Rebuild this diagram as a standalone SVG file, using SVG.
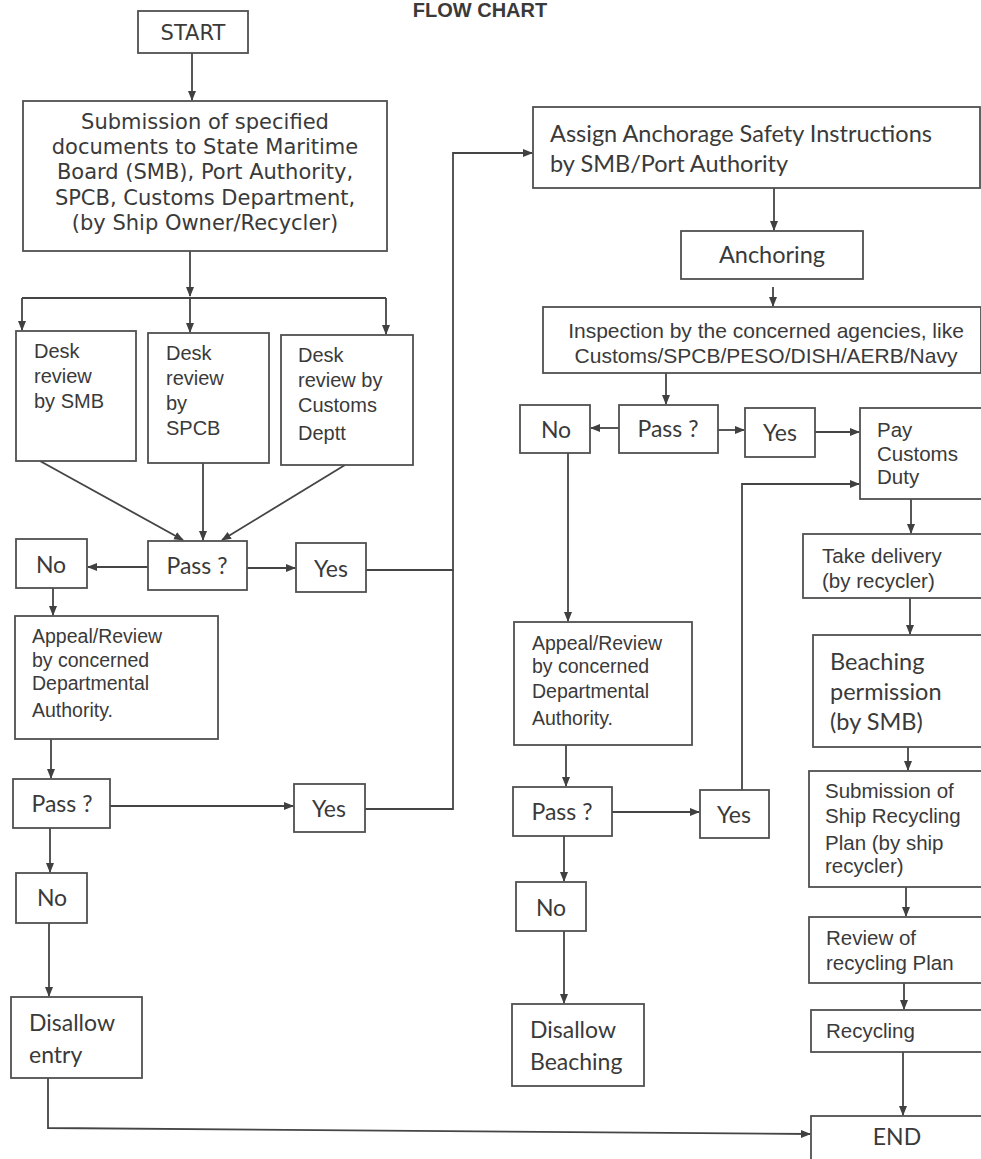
<svg xmlns="http://www.w3.org/2000/svg" width="981" height="1159" viewBox="0 0 981 1159">
<style>
.box{fill:#fff;stroke:#505050;stroke-width:1.8}
.c{fill:none;stroke:#454545;stroke-width:1.8}
.v{font-family:"DejaVu Sans",Verdana,sans-serif;fill:#3a3a3a}
.a{font-family:"Liberation Sans",Arial,sans-serif;fill:#3a3a3a}
.k{font-family:Lato,"Liberation Sans",sans-serif;fill:#3a3a3a}
.m{text-anchor:middle}
</style>
<defs>
<marker id="ah" markerWidth="10" markerHeight="10" refX="9" refY="5" orient="auto" markerUnits="userSpaceOnUse">
<path d="M0,1 L10,5 L0,9 Z" fill="#404040"/>
</marker>
</defs>
<rect width="981" height="1159" fill="#fff"/>
<text x="480" y="17" class="a m" font-size="20" font-weight="bold" fill="#222">FLOW CHART</text>

<g id="connectors" class="c" marker-end="url(#ah)">
<path d="M192,53 V100"/>
<path d="M190,251 V296"/>
<path d="M22,298 H386" marker-end="none"/>
<path d="M22,298 V330"/>
<path d="M190,298 V332"/>
<path d="M386,298 V334"/>
<path d="M40,461 L183,540"/>
<path d="M203,463 V540"/>
<path d="M345,465 L222,540"/>
<path d="M148,567 H88"/>
<path d="M247,568 H295"/>
<path d="M366,570 H453 V153 H532"/>
<path d="M53,588 V615"/>
<path d="M51,739 V778"/>
<path d="M110,806 H293"/>
<path d="M365,809 H453 V570" marker-end="none"/>
<path d="M50,828 V872"/>
<path d="M49,923 V996"/>
<path d="M48,1078 V1128 L810,1134"/>
<path d="M774,188 V230"/>
<path d="M773,287 V306"/>
<path d="M666,373 V404"/>
<path d="M619,428 H591"/>
<path d="M718,430 H744"/>
<path d="M815,432 H859"/>
<path d="M568,453 V621"/>
<path d="M566,745 V786"/>
<path d="M612,812 H699"/>
<path d="M742,790 V484 H859"/>
<path d="M564,836 V881"/>
<path d="M564,931 V1003"/>
<path d="M911,499 V533"/>
<path d="M910,598 V634"/>
<path d="M908,747 V770"/>
<path d="M906,887 V916"/>
<path d="M904,983 V1009"/>
<path d="M903,1052 V1115"/>
</g>

<g id="start"><rect class="box" x="138" y="11" width="110" height="42"/><text x="193" y="40" class="v m" font-size="21">START</text></g>

<g id="submission"><rect class="box" x="23" y="101" width="364" height="150"/>
<text class="v m" font-size="21"><tspan x="205" y="129">Submission of specified</tspan><tspan x="205" y="154">documents to State Maritime</tspan><tspan x="205" y="179">Board (SMB), Port Authority,</tspan><tspan x="205" y="205">SPCB, Customs Department,</tspan><tspan x="205" y="230">(by Ship Owner/Recycler)</tspan></text></g>

<g id="desk_smb"><rect class="box" x="16" y="331" width="120" height="130"/>
<text class="a" font-size="20"><tspan x="34" y="358">Desk</tspan><tspan x="34" y="383">review</tspan><tspan x="34" y="408">by SMB</tspan></text></g>
<g id="desk_spcb"><rect class="box" x="148" y="333" width="121" height="130"/>
<text class="a" font-size="20"><tspan x="166" y="360">Desk</tspan><tspan x="166" y="385">review</tspan><tspan x="166" y="410">by</tspan><tspan x="166" y="435">SPCB</tspan></text></g>
<g id="desk_customs"><rect class="box" x="281" y="335" width="132" height="130"/>
<text class="a" font-size="20"><tspan x="298" y="362">Desk</tspan><tspan x="298" y="387">review by</tspan><tspan x="298" y="412">Customs</tspan><tspan x="298" y="440">Deptt</tspan></text></g>

<g id="pass1"><rect class="box" x="148" y="541" width="99" height="49"/><text x="197" y="574" class="k m" font-size="23">Pass ?</text></g>
<g id="no1"><rect class="box" x="16" y="539" width="71" height="49"/><text x="51" y="573" class="k m" font-size="23">No</text></g>
<g id="yes1"><rect class="box" x="296" y="543" width="70" height="49"/><text x="331" y="577" class="k m" font-size="23">Yes</text></g>

<g id="appeal1"><rect class="box" x="15" y="616" width="203" height="123"/>
<text class="a" font-size="19.5"><tspan x="32" y="643">Appeal/Review</tspan><tspan x="32" y="667">by concerned</tspan><tspan x="32" y="690">Departmental</tspan><tspan x="32" y="717">Authority.</tspan></text></g>

<g id="pass2"><rect class="box" x="13" y="779" width="97" height="49"/><text x="62" y="812" class="k m" font-size="23">Pass ?</text></g>
<g id="yes2"><rect class="box" x="294" y="784" width="71" height="48"/><text x="329" y="817" class="k m" font-size="23">Yes</text></g>
<g id="no2"><rect class="box" x="16" y="873" width="71" height="50"/><text x="52" y="906" class="k m" font-size="23">No</text></g>
<g id="disallow_entry"><rect class="box" x="11" y="997" width="131" height="81"/>
<text class="k" font-size="23"><tspan x="29" y="1031">Disallow</tspan><tspan x="29" y="1063">entry</tspan></text></g>

<g id="assign"><rect class="box" x="533" y="107" width="447" height="81"/>
<text class="k" font-size="23.5"><tspan x="550" y="142">Assign Anchorage Safety Instructions</tspan><tspan x="550" y="172">by SMB/Port Authority</tspan></text></g>
<g id="anchoring"><rect class="box" x="681" y="231" width="182" height="48"/><text x="772" y="263" class="k m" font-size="23.5">Anchoring</text></g>
<g id="inspection"><rect class="box" x="543" y="307" width="438" height="66"/>
<text class="a m" font-size="21"><tspan x="766" y="338">Inspection by the concerned agencies,  like</tspan><tspan x="766" y="363">Customs/SPCB/PESO/DISH/AERB/Navy</tspan></text></g>

<g id="pass3"><rect class="box" x="619" y="405" width="99" height="48"/><text x="668" y="437" class="k m" font-size="23">Pass ?</text></g>
<g id="no3"><rect class="box" x="520" y="405" width="70" height="48"/><text x="556" y="438" class="k m" font-size="23">No</text></g>
<g id="yes3"><rect class="box" x="745" y="408" width="70" height="49"/><text x="780" y="441" class="k m" font-size="23">Yes</text></g>
<g id="pay"><rect class="box" x="860" y="408" width="125" height="91"/>
<text class="a" font-size="20.5"><tspan x="877" y="437">Pay</tspan><tspan x="877" y="461">Customs</tspan><tspan x="877" y="484">Duty</tspan></text></g>

<g id="appeal2"><rect class="box" x="514" y="622" width="178" height="123"/>
<text class="a" font-size="19.5"><tspan x="532" y="650">Appeal/Review</tspan><tspan x="532" y="673">by concerned</tspan><tspan x="532" y="698">Departmental</tspan><tspan x="532" y="725">Authority.</tspan></text></g>
<g id="pass4"><rect class="box" x="513" y="787" width="99" height="49"/><text x="562" y="820" class="k m" font-size="23">Pass ?</text></g>
<g id="yes4"><rect class="box" x="700" y="790" width="69" height="48"/><text x="734" y="823" class="k m" font-size="23">Yes</text></g>
<g id="no4"><rect class="box" x="516" y="882" width="70" height="49"/><text x="551" y="916" class="k m" font-size="23">No</text></g>
<g id="disallow_beaching"><rect class="box" x="512" y="1004" width="132" height="82"/>
<text class="k" font-size="23"><tspan x="530" y="1038">Disallow</tspan><tspan x="530" y="1070">Beaching</tspan></text></g>

<g id="take_delivery"><rect class="box" x="803" y="534" width="182" height="64"/>
<text class="a" font-size="20.5"><tspan x="822" y="563">Take delivery</tspan><tspan x="822" y="588">(by recycler)</tspan></text></g>
<g id="beaching"><rect class="box" x="813" y="635" width="172" height="112"/>
<text class="k" font-size="23.5"><tspan x="830" y="670">Beaching</tspan><tspan x="830" y="700">permission</tspan><tspan x="830" y="730">(by SMB)</tspan></text></g>
<g id="submission_plan"><rect class="box" x="809" y="771" width="176" height="116"/>
<text class="a" font-size="20.5"><tspan x="825" y="798">Submission of</tspan><tspan x="825" y="823">Ship Recycling</tspan><tspan x="825" y="850">Plan (by ship</tspan><tspan x="825" y="873">recycler)</tspan></text></g>
<g id="review"><rect class="box" x="809" y="917" width="176" height="66"/>
<text class="a" font-size="20.5"><tspan x="826" y="945">Review of</tspan><tspan x="826" y="970">recycling Plan</tspan></text></g>
<g id="recycling"><rect class="box" x="811" y="1010" width="174" height="42"/><text x="826" y="1038" class="a" font-size="20.5">Recycling</text></g>
<g id="end"><rect class="box" x="811" y="1116" width="174" height="50"/><text x="897" y="1145" class="k m" font-size="23">END</text></g>
</svg>
